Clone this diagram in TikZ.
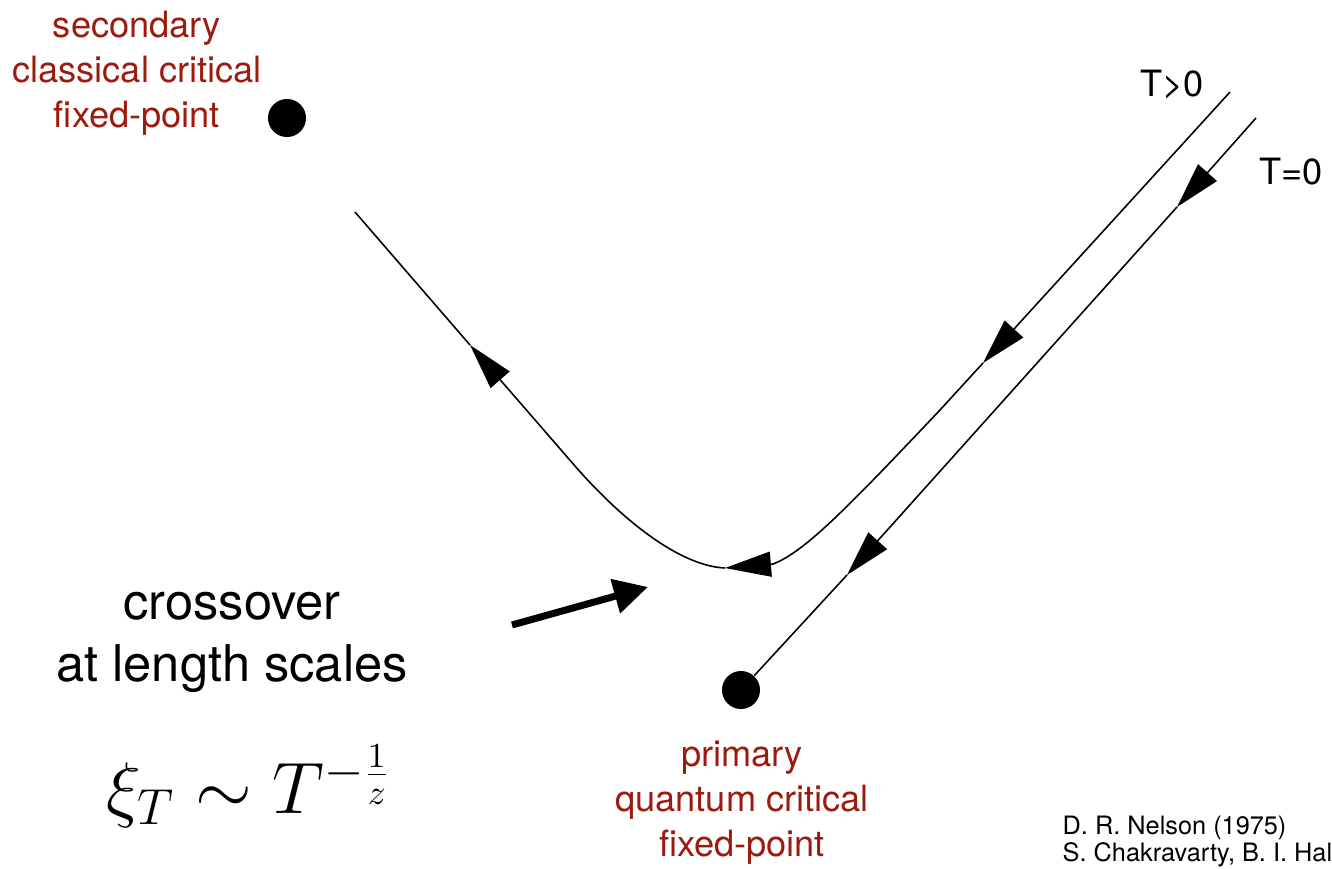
\documentclass[tikz,border=0pt]{standalone}
\usepackage{fontspec}
\setmainfont{TeX Gyre Heros}
\usetikzlibrary{arrows.meta}
\definecolor{FixRed}{RGB}{155,28,15}
\tikzset{
  fixdot/.style={circle,fill=black,inner sep=0pt,minimum size=0.38cm},
  fplabel/.style={text=FixRed,align=center,inner sep=0pt,font=\fontsize{10.3}{12.8}\selectfont},
  tlabel/.style={inner sep=0pt,font=\fontsize{10.3}{12.8}\selectfont},
  flowline/.style={line width=0.45pt},
  flow/.style={flowline,-{Triangle[length=0.46cm,width=0.25cm]}},
  crossarrow/.style={line width=0.07cm,-{Triangle[length=0.34cm,width=0.34cm]}},
}
\begin{document}
\begin{tikzpicture}[x=0.01cm,y=-0.01cm]
\useasboundingbox (0,0) rectangle (1332,869);
% fixed points
\node[fixdot] (sec) at (287,118) {};
\node[fixdot] (prim) at (741,690) {};
\node[fplabel] (seclab) at (137,73) {secondary\\classical critical\\fixed-point};
\node[fplabel] (primlab) at (742,803) {primary\\quantum critical\\fixed-point};
% T=0 flow into the quantum point
\coordinate (tz) at (1256,118);
\coordinate (az1) at (1177,207);
\coordinate (az2) at (847,575);
\draw[flow] (tz) -- (az1);
\draw[flow] (az1) -- (az2);
\draw[flowline] (az2) -- (prim);
\node[tlabel] (tzero) at (1291,172) {T=0};
% T>0 flow, crossing over
\coordinate (tp) at (1230,92);
\coordinate (ap1) at (983,363);
\coordinate (ap2) at (725,568);
\coordinate (ap3) at (470,345);
\coordinate (ce) at (355,212);
\draw[flow] (tp) -- (ap1);
\draw[flow] (ap1) -- (940,410) .. controls (850,505) and (805,552) .. (773,564) -- (ap2);
\draw[flow] (ap2) .. controls (680,566) and (622,520) .. (575,466) -- (ap3);
\draw[flowline] (ap3) -- (ce);
\node[tlabel] (tpos) at (1172,85) {T>0};
% crossover
\node[inner sep=0pt,align=center,font=\fontsize{14.4}{17.6}\selectfont] (cross) at (232,642) {crossover\\at length scales};
\node[inner sep=0pt,font=\fontsize{20}{24}\selectfont] (xi) at (249,786) {$\xi_T \sim T^{-\frac{1}{z}}$};
\coordinate (xtail) at (512,625);
\coordinate (xhead) at (648,587);
\draw[crossarrow] (xtail) -- (xhead);
% references
\node[inner sep=0pt,align=left,anchor=north west,font=\fontsize{7.2}{7.7}\selectfont] (refs) at (1062,815) {D. R. Nelson (1975)\\S. Chakravarty, B. I. Hal};
\end{tikzpicture}
\end{document}
